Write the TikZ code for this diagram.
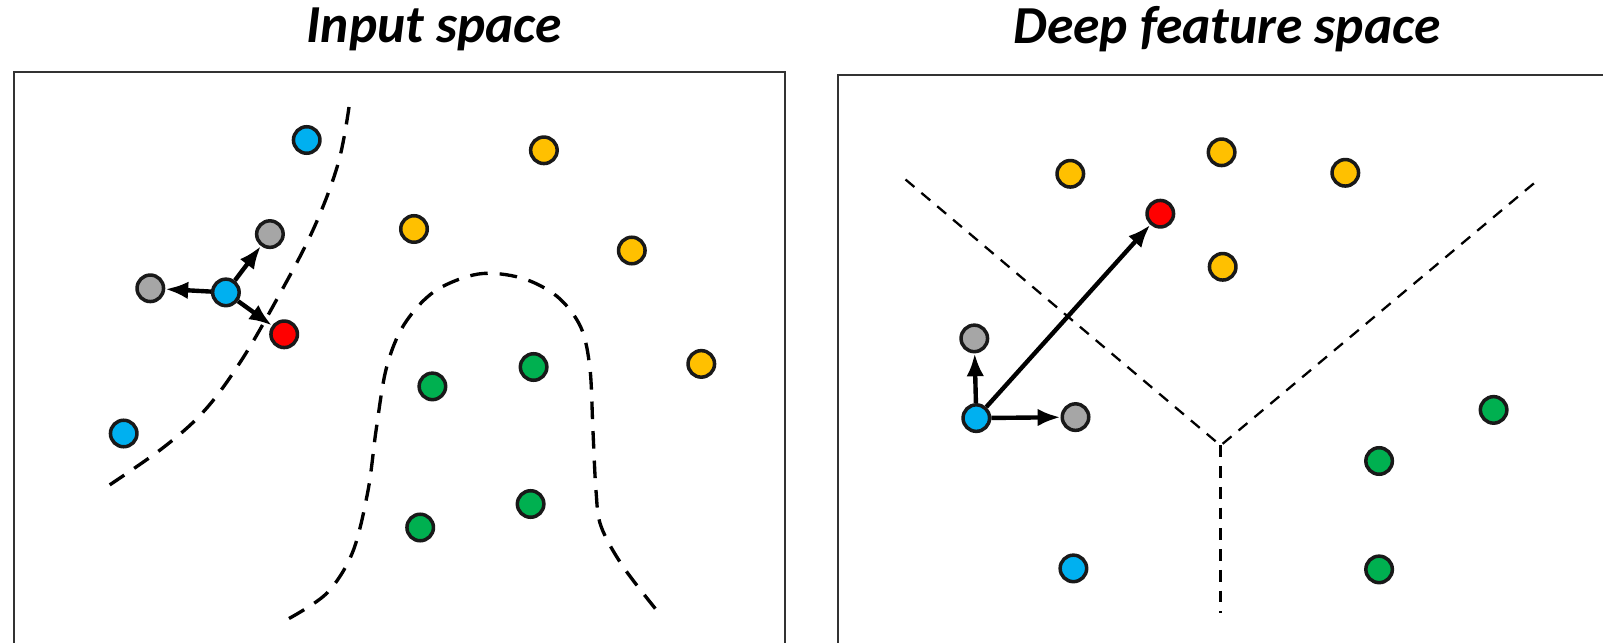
\documentclass[tikz,border=0pt]{standalone}
\usepackage{fontspec}
\setmainfont{Carlito}
\usepackage{xcolor}
\usepackage{tikz}
\usetikzlibrary{arrows.meta, positioning, calc}
\definecolor{ptblue}{HTML}{00B0F0}
\definecolor{ptyellow}{HTML}{FFC000}
\definecolor{ptgreen}{HTML}{00B050}
\definecolor{ptred}{HTML}{FF0000}
\definecolor{ptgrey}{HTML}{A6A6A6}
\tikzset{
  sample/.style={circle,draw=black!90,line width=1pt,minimum size=0.265cm,inner sep=0pt},
  bluedot/.style={sample,fill=ptblue},
  yellowdot/.style={sample,fill=ptyellow},
  greendot/.style={sample,fill=ptgreen},
  reddot/.style={sample,fill=ptred},
  greydot/.style={sample,fill=ptgrey},
  arrow/.style={-{Latex[length=6.5pt,width=5pt]},line width=1.25pt,draw=black},
  frame/.style={draw=black!80,line width=0.6pt},
  boundary/.style={draw=black,line width=0.95pt,dash pattern=on 5pt off 3.4pt},
  thinboundary/.style={draw=black,line width=0.65pt,dash pattern=on 3.3pt off 2.6pt},
  title/.style={font=\fontsize{15.2}{18}\selectfont\bfseries\itshape}
}

\begin{document}
\begin{tikzpicture}[x=0.01cm,y=-0.01cm]
  \useasboundingbox (0,0) rectangle (1603,643);

  % titles
  \node[title] (ttlin) at (434,29) {Input space};
  \node[title] (ttlfeat) at (1227,29) {Deep feature space};

  % frames
  \draw[frame] (14.3,643) -- (14.3,71.6) -- (785,71.6) -- (785,643);
  \draw[frame] (838,643) -- (838,74.6) -- (1603,74.6);

  % input space boundaries
  \draw[boundary] plot[smooth,tension=0.6] coordinates {(349,107) (338,164) (313,230)
    (277,299) (241,361) (205,410) (164,447) (108,486)};
  \draw[boundary] plot[smooth,tension=0.55] coordinates {(289,618.5) (327,593) (352.7,552)
    (368,490.7) (376.2,429.4) (386.4,368) (403.8,325) (434.5,291.4) (478.4,274)
    (521.4,278) (557.2,296.5) (580.7,327) (589.9,368) (592.9,429.4) (596,490.7)
    (601.1,526.5) (623.6,567.4) (662.5,617.5)};

  % input space samples
  \node[bluedot] (inblueA) at (306.7,140) {};
  \node[yellowdot] (inyelA) at (543.9,150.3) {};
  \node[greydot] (ingreyA) at (269.9,234.1) {};
  \node[yellowdot] (inyelB) at (414,229) {};
  \node[yellowdot] (inyelC) at (631.8,250.5) {};
  \node[greydot] (ingreyB) at (150.3,288.3) {};
  \node[bluedot] (inanchor) at (225.9,292.4) {};
  \node[reddot] (inred) at (284.2,334.3) {};
  \node[greendot] (ingrnA) at (533.6,367) {};
  \node[greendot] (ingrnB) at (432.4,386.4) {};
  \node[yellowdot] (inyelD) at (701.3,363.9) {};
  \node[bluedot] (inblueB) at (123.7,433.5) {};
  \node[greendot] (ingrnC) at (530.6,504) {};
  \node[greendot] (ingrnD) at (420.2,527.5) {};

  \draw[arrow] (inanchor) -- (ingreyA);
  \draw[arrow] (inanchor) -- (ingreyB);
  \draw[arrow] (inanchor) -- (inred);

  % feature space boundaries
  \coordinate (fjoin) at (1220.6,445.5);
  \coordinate (fleft) at (905.5,179.5);
  \coordinate (fright) at (1538.5,179.5);
  \coordinate (fbottom) at (1220.6,613);
  \draw[thinboundary] (fleft) -- (fjoin) -- (fright);
  \draw[thinboundary] (fjoin) -- (fbottom);

  % feature space samples
  \node[yellowdot] (ftyelA) at (1070.3,173.8) {};
  \node[yellowdot] (ftyelB) at (1221.6,152.3) {};
  \node[yellowdot] (ftyelC) at (1345.3,172.8) {};
  \node[reddot] (ftred) at (1160.3,213.7) {};
  \node[yellowdot] (ftyelD) at (1222.7,266.8) {};
  \node[greydot] (ftgreyA) at (974.3,338.4) {};
  \node[bluedot] (ftanchor) at (976.3,418.1) {};
  \node[greydot] (ftgreyB) at (1075.5,417.1) {};
  \node[greendot] (ftgrnA) at (1493.6,409.9) {};
  \node[greendot] (ftgrnB) at (1379.1,461) {};
  \node[bluedot] (ftblue) at (1073.4,568.4) {};
  \node[greendot] (ftgrnC) at (1379.1,569.4) {};

  \draw[arrow] (ftanchor) -- (ftgreyA);
  \draw[arrow] (ftanchor) -- (ftgreyB);
  \draw[arrow] (ftanchor) -- (ftred);
\end{tikzpicture}
\end{document}
